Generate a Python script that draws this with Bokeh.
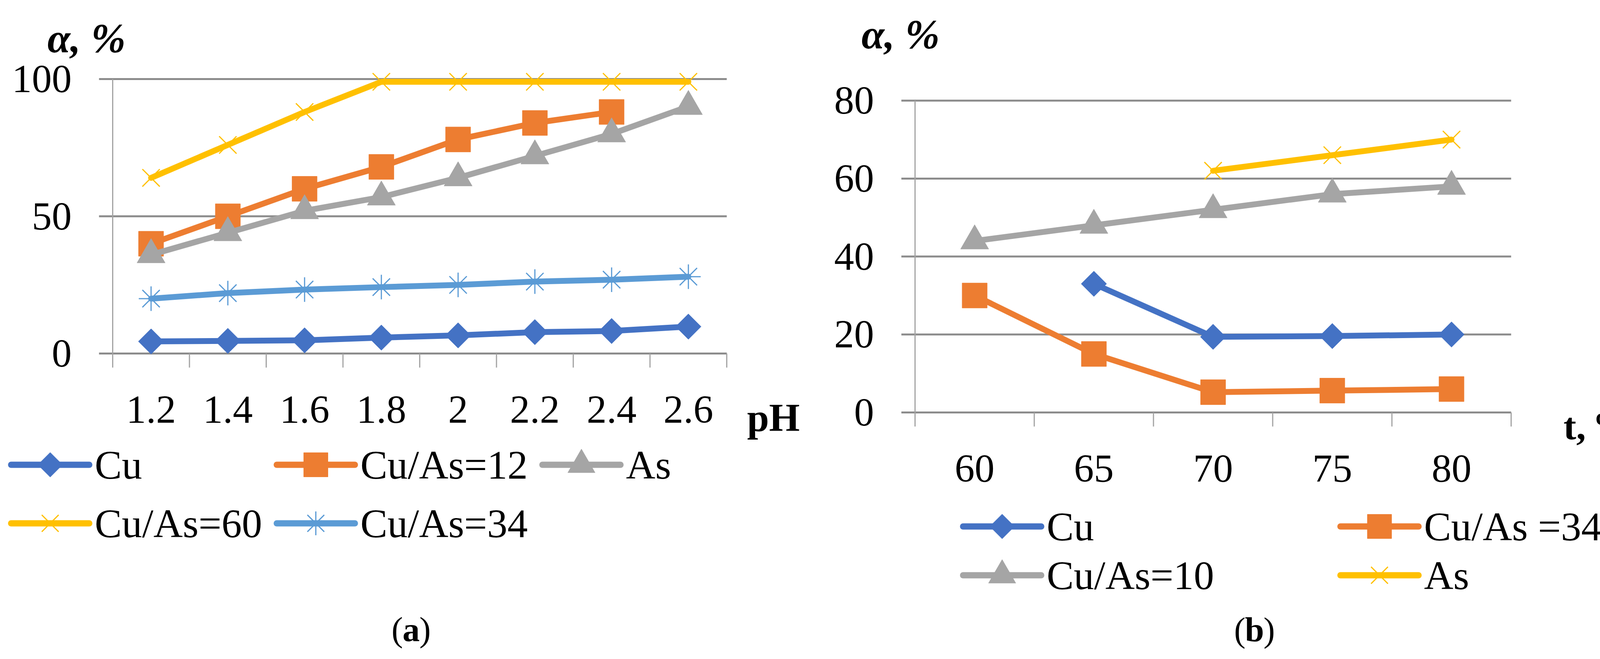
import math
from bokeh.plotting import figure
from bokeh.models import Range1d, ColumnDataSource
from bokeh.core.properties import value
from bokeh.layouts import row
from bokeh.embed import file_html
from bokeh.resources import INLINE

NAN = float("nan")

# ---------------- data: panel (a) ----------------
ph_labels = ["1.2", "1.4", "1.6", "1.8", "2", "2.2", "2.4", "2.6"]
a_cu = [4.4, 4.6, 4.8, 5.8, 6.6, 7.8, 8.2, 9.8]
a_cu_as12 = [40, 50, 60, 68, 78, 84, 88, NAN]
a_as = [36, 44, 52, 57, 64, 72, 80, 90]
a_cu_as60 = [64, 76, 88, 99, 99, 99, 99, 99]
a_cu_as34 = [20, 22, 23.3, 24.2, 25, 26.2, 26.9, 28]
a_yticks = [0, 50, 100]
a_names = ["Cu", "Cu/As=12", "As", "Cu/As=60", "Cu/As=34"]

# ---------------- data: panel (b) ----------------
t_labels = ["60", "65", "70", "75", "80"]
b_cu = [NAN, 33, 19.4, 19.6, 20]
b_cu_as34 = [30, 15, 5.2, 5.6, 6]
b_cu_as10 = [44, 48, 52, 56, 58]
b_as = [NAN, NAN, 62, 66, 70]
b_yticks = [0, 20, 40, 60, 80]
b_names = ["Cu", "Cu/As =34", "Cu/As=10", "As"]

FONT = "Liberation Serif"
C_BLUE = "#4472C4"
C_ORANGE = "#ED7D31"
C_GRAY = "#A5A5A5"
C_YELLOW = "#FFC000"
C_LBLUE = "#5B9BD5"
GRID = "#8c8c8c"
AXIS = "#a3a3a3"
LW = 15
FIG_Y0, FIG_H = 8, 1672


class Panel:
    """Maps page pixels to data units for one panel."""

    def __init__(self, fig_x0, fig_w, ax_x, cat_w, ax_y, unit):
        self.ax_x, self.cat_w, self.ax_y, self.unit = ax_x, cat_w, ax_y, unit
        self.p = figure(width=fig_w, height=FIG_H,
                        x_range=Range1d(self.xd(fig_x0), self.xd(fig_x0 + fig_w)),
                        y_range=Range1d(self.yd(FIG_Y0 + FIG_H), self.yd(FIG_Y0)),
                        x_axis_type=None, y_axis_type=None, title=None,
                        min_border=0, toolbar_location=None,
                        output_backend="svg")
        self.p.outline_line_color = None
        self.p.background_fill_color = "white"
        self.p.border_fill_color = "white"

    def xd(self, px):
        return (px - self.ax_x) / self.cat_w - 0.5

    def yd(self, py):
        return (self.ax_y - py) / self.unit

    def text(self, xs, ys, texts, size, style="normal", align="left",
             baseline="alphabetic"):
        self.p.text(x=xs, y=ys, text=texts, text_font=value(FONT),
                    text_font_size=value(size), text_font_style=value(style),
                    text_align=value(align), text_baseline=value(baseline),
                    text_color="black")

    def marker(self, src, color, marker, scale=1.0):
        p = self.p
        if marker == "diamond":
            p.scatter("x", "y", source=src, marker="square", angle=math.pi / 4,
                      size=46 * scale, fill_color=color, line_color=color)
        elif marker in ("x", "asterisk"):
            p.scatter("x", "y", source=src, marker=marker, size=63 * scale,
                      line_color=color, line_width=3)
        elif marker == "triangle":
            p.scatter("x", "y", source=src, marker="triangle", size=72 * scale,
                      fill_color=color, line_color=color)
        else:
            p.scatter("x", "y", source=src, marker="square", size=64 * scale,
                      fill_color=color, line_color=color)

    def axes(self, labels, yticks):
        p = self.p
        n = len(labels)
        tick_x = self.xd(self.ax_x - 35)
        p.segment(x0=[tick_x] * len(yticks), x1=[n - 0.5] * len(yticks),
                  y0=yticks, y1=yticks, line_color=GRID, line_width=5)
        p.segment(x0=[-0.5], x1=[-0.5], y0=[yticks[0]], y1=[yticks[-1]],
                  line_color=AXIS, line_width=3)
        bx = [i - 0.5 for i in range(n + 1)]
        p.segment(x0=bx, x1=bx, y0=[0] * len(bx),
                  y1=[self.yd(self.ax_y + 36)] * len(bx),
                  line_color=AXIS, line_width=3)
        self.text([self.xd(self.ax_x - 105)] * len(yticks), yticks,
                  [str(t) for t in yticks], "102px", align="right",
                  baseline="middle")
        self.text(list(range(n)), [self.yd(self.ax_y + 144)] * n, labels,
                  "102px", align="center", baseline="middle")

    def series(self, values, color, marker):
        src = ColumnDataSource(dict(x=list(range(len(values))), y=values))
        self.p.line("x", "y", source=src, line_color=color, line_width=LW,
                    line_join="round", line_cap="round")
        self.marker(src, color, marker)

    def legend(self, names, colors, markers, x0, pitch, rows_y, ncols):
        for k, (nm, c, m) in enumerate(zip(names, colors, markers)):
            gx = x0 + (k % ncols) * pitch
            gy = self.yd(rows_y[k // ncols])
            self.p.segment(x0=[self.xd(gx)], x1=[self.xd(gx + 200)],
                           y0=[gy], y1=[gy], line_color=c, line_width=16,
                           line_cap="round")
            src = ColumnDataSource(dict(x=[self.xd(gx + 100)], y=[gy]))
            self.marker(src, c, m, 0.97)
            self.text([self.xd(gx + 214)], [gy], [nm], "104px",
                      baseline="middle")


# ---------------- panel (a) ----------------
A = Panel(8, 2132, 296, 196.5, 913, 7.03)
A.axes(ph_labels, a_yticks)
a_colors = [C_BLUE, C_ORANGE, C_GRAY, C_YELLOW, C_LBLUE]
a_markers = ["diamond", "square", "triangle", "x", "asterisk"]
for vals, c, m in zip([a_cu, a_cu_as12, a_as, a_cu_as60, a_cu_as34],
                      a_colors, a_markers):
    A.series(vals, c, m)
A.legend(a_names, a_colors, a_markers, 36, 680, [1198, 1348], 3)
A.text([A.xd(129)], [A.yd(106)], ["α, %"], "106px", "bold italic")
A.text([A.xd(1920)], [A.yd(1077)], ["pH"], "101px", "bold")
A.text([A.xd(1039)], [A.yd(1620)], ["("], "88px", align="right", baseline="middle")
A.text([A.xd(1060)], [A.yd(1620)], ["a"], "88px", "bold", "center", "middle")
A.text([A.xd(1081)], [A.yd(1620)], [")"], "88px", baseline="middle")

# ---------------- panel (b) ----------------
B = Panel(2140, 2140, 2350, 305.2, 1064, 9.985)
B.axes(t_labels, b_yticks)
b_colors = [C_BLUE, C_ORANGE, C_GRAY, C_YELLOW]
b_markers = ["diamond", "square", "triangle", "x"]
for vals, c, m in zip([b_cu, b_cu_as34, b_cu_as10, b_as], b_colors, b_markers):
    B.series(vals, c, m)
B.legend(b_names, b_colors, b_markers, 2473, 966, [1356, 1481], 2)
B.text([B.xd(2213)], [B.yd(96)], ["α, %"], "106px", "bold italic")
B.text([B.xd(4010)], [B.yd(1099)], ["t, ºC"], "98px", "bold")
B.text([B.xd(3196)], [B.yd(1621)], ["("], "88px", align="right", baseline="middle")
B.text([B.xd(3219)], [B.yd(1621)], ["b"], "88px", "bold", "center", "middle")
B.text([B.xd(3242)], [B.yd(1621)], [")"], "88px", baseline="middle")

layout = row(A.p, B.p)
open("out.html", "w").write(file_html(layout, INLINE))
